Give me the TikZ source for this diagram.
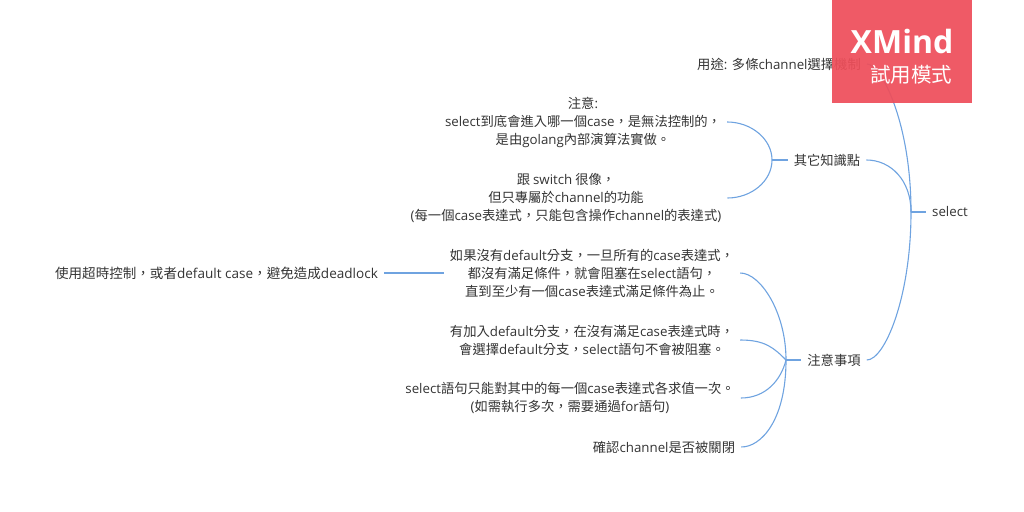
\documentclass[tikz,border=0pt]{standalone}
\usepackage{fontspec}
\setmainfont{Noto Sans CJK TC}
\newfontfamily\enfont{Open Sans}
\newcommand{\en}[1]{{\enfont #1}}
\usepackage{xcolor}
\definecolor{branchblue}{HTML}{6FA3E0}
\definecolor{inktext}{HTML}{333333}
\definecolor{badgered}{HTML}{EE4E5A}

\begin{document}
\begin{tikzpicture}[x = 1pt, y = -1pt,
            topic/.style = {text = inktext, inner xsep = 6pt, inner ysep = 1pt, align = center,
                font = \fontsize{13.3}{18}\selectfont},
            branch/.style = {branchblue, line width = 1.1pt},
            stub/.style = {branchblue, line width = 1.6pt}]
            \useasboundingbox (0,0) rectangle (1024,511);
            \coordinate (rootfork) at (911,212);
            \coordinate (otherfork) at (772,160);
            \coordinate (noticefork) at (786,360);
            \node[topic] (root) at (950,212) {\en{select}};
            \node[topic] (usage) at (779,64) {用途\en{: }多條\en{channel}選擇機制};
            \node[topic] (other) at (827,160) {其它知識點};
            \node[topic] (notice) at (834,360) {注意事項};
            \node[topic] (note) at (583,122) {注意\en{:}\\\en{select}到底會進入哪一個\en{case}，是無法控制的，\\是由\en{golang}內部演算法實做。};
            \node[topic] (switch) at (566,198) {跟 \en{switch} 很像，\\但只專屬於\en{channel}的功能\\\en{(}每一個\en{case}表達式，只能包含操作\en{channel}的表達式\en{)}};
            \node[topic] (nodefault) at (592,273) {如果沒有\en{default}分支，一旦所有的\en{case}表達式，\\都沒有滿足條件，就會阻塞在\en{select}語句，\\直到至少有一個\en{case}表達式滿足條件為止。};
            \node[topic] (hasdefault) at (592,340) {有加入\en{default}分支，在沒有滿足\en{case}表達式時，\\會選擇\en{default}分支，\en{select}語句不會被阻塞。};
            \node[topic] (once) at (570,398) {\en{select}語句只能對其中的每一個\en{case}表達式各求值一次。\\\en{(}如需執行多次，需要通過\en{for}語句\en{)}};
            \node[topic] (closed) at (664,447) {確認\en{channel}是否被關閉};
            \node[topic, font = \fontsize{13.55}{18}\selectfont] (timeout) at (216.5,273) {使用超時控制，或者\en{default case}，避免造成\en{deadlock}};
            \draw[stub] (rootfork) -- (root.west);
            \draw[stub] (otherfork) -- (other.west);
            \draw[stub] (noticefork) -- (notice.west);
            \draw[branch] (timeout.east) -- (nodefault.west);
            \draw[branch] (rootfork) .. controls +(0,-90) and +(14,0) .. (usage.east);
            \draw[branch] (rootfork) .. controls +(0,-32) and +(24,0) .. (other.east);
            \draw[branch] (rootfork) .. controls +(0,85) and +(18,0) .. (notice.east);
            \draw[branch] (otherfork) .. controls +(0,-21) and +(24,0) .. (note.east);
            \draw[branch] (otherfork) .. controls +(0,21) and +(24,0) .. (switch.east);
            \draw[branch] (noticefork) .. controls +(0,-48) and +(20,0) .. (nodefault.east);
            \draw[branch] (noticefork) .. controls +(-12,-12) and +(25,0) .. (hasdefault.east);
            \draw[branch] (noticefork) .. controls +(-5,20) and +(25,0) .. (once.east);
            \draw[branch] (noticefork) .. controls +(0,60) and +(20,0) .. (closed.east);
            \fill[badgered, opacity = 0.93] (832,0) rectangle (971.5,103);
            \node[white, font = \fontsize{32}{32}\enfont\bfseries\selectfont] (brand) at (902,42) {XMind};
            \node[white, font = \fontsize{20.5}{22}\selectfont] (trial) at (911,75) {試用模式};
        \end{tikzpicture}
\end{document}
